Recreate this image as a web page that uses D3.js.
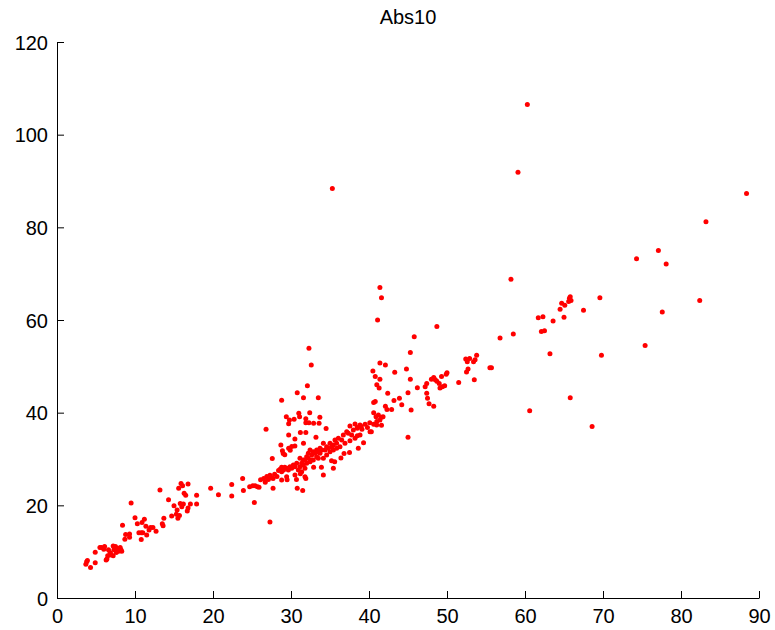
<!DOCTYPE html>
<html>
<head>
<meta charset="utf-8">
<script src="https://cdn.jsdelivr.net/npm/d3@7"></script>
<style>
  html, body { margin: 0; padding: 0; background: #fff; }
  svg text { font-family: "Liberation Sans", Arial, Helvetica, sans-serif; }
</style>
</head>
<body>
<script>
// Scatter of Abs10 observations
const title = "Abs10";
const xTicks = [0, 10, 20, 30, 40, 50, 60, 70, 80, 90];
const yTicks = [0, 20, 40, 60, 80, 100, 120];

const xVals = [
  // low range
  3.8, 3.9, 3.7, 4.3, 4.9, 4.9, 5.5, 5.7, 6.1, 6.0, 6.4, 6.3, 6.5, 6.8, 6.6, 6.9, 7.2, 7.3, 7.5, 7.6, 7.2, 6.8,
  7.7, 7.9, 8.2, 8.3, 8.1, 8.4, 8.7, 8.8, 9.3, 9.3, 9.5, 10.0, 10.3, 10.5, 10.8, 11.0, 10.8,
  10.9, 11.2, 11.4, 11.8, 12.0, 12.3, 11.5, 12.7, 13.2, 13.6, 13.5, 13.7, 14.3,
  14.7, 15.0, 15.4, 15.3, 15.5, 15.7, 15.8, 16.0, 16.2, 15.6, 15.9, 16.1, 16.3, 16.5, 16.7, 16.8, 17.1, 16.8,
  17.9, 17.9, 19.7, 20.7, 22.4, 22.4,
  // 24 - 32
  23.8, 23.9, 24.7, 25.1, 25.4, 25.7, 25.9, 25.3, 26.1, 26.5, 26.7, 26.9, 27.1, 27.3, 27.5, 27.7, 27.9, 28.2, 27.7,
  28.4, 28.6, 28.8, 29.0, 29.2, 29.5, 30.7, 30.8, 31.2, 31.5, 31.9, 27.3,
  // dense band 29 - 39
  37.56, 38.21, 38.50, 38.85, 37.99, 37.14, 36.71, 37.35, 37.78, 36.07, 36.50, 35.64, 35.00, 35.43, 34.57,
  34.15, 33.72, 33.29, 32.86, 32.65, 32.22, 32.01, 31.58, 31.15, 30.73, 30.30, 29.87, 29.44, 29.02, 28.80,
  33.72, 33.29, 32.86, 32.44, 32.01, 31.58, 31.15, 31.79, 31.37, 30.94, 34.15, 34.57, 35.00, 35.43, 35.85,
  36.28, 36.92, 37.56, 38.21, 38.85,
  38.63, 35.43, 34.15, 31.79, 30.51, 29.44, 28.80,
  32.44, 33.08, 33.50, 33.93, 34.36, 34.79, 32.22, 32.65, 31.79, 31.37, 30.51, 30.09, 29.66, 33.50, 35.21, 35.85,
  40.13, 40.98,
  // above the band
  32.1, 30.8, 31.6, 33.5, 28.8, 29.4, 29.8, 29.7, 30.4, 31.0, 31.1, 31.9, 31.9, 32.4, 32.3, 32.9, 33.7, 33.6, 34.5,
  26.8, 29.7, 30.5, 31.2, 31.9, 31.6, 33.2, 28.7, 28.9, 29.0, 29.7, 29.9, 30.1, 30.5, 29.2, 27.6,
  // below the band
  32.9, 33.9, 35.2, 35.6, 36.4, 36.8, 37.5, 39.3, 38.5, 40.3, 40.6, 40.6, 40.8, 40.6, 41.0,
  41.0, 39.0, 39.5, 39.8, 40.1,
  // 40 - 55
  41.1, 48.7, 45.8, 45.3, 32.3, 32.6, 41.4, 42.1, 40.5, 40.8, 41.4, 43.3, 44.8, 45.3,
  41.3, 42.4, 45.0, 46.2, 42.1, 42.3, 42.9, 43.2, 43.9, 44.2, 45.4, 40.9, 41.2, 41.4, 41.6, 41.6,
  38.5, 39.1, 45.0, 47.2, 47.4, 47.5, 47.7, 48.3, 48.0, 48.3, 48.7, 49.0, 49.1, 49.4, 49.7, 50.0, 49.9, 49.3, 51.5,
  52.4, 52.6, 52.9, 52.7, 52.5, 53.5, 53.8, 53.6, 53.4, 47.4, 48.5, 41.4, 41.6, 41.8,
  // 55 - 66
  58.2, 58.5, 56.8, 61.7, 62.3, 63.6, 64.5, 64.7, 65.1, 65.6, 65.8, 65.9, 65.7, 65.0,
  62.1, 62.5, 63.2, 65.8, 60.6, 55.5, 55.7,
  // high range
  88.4, 83.2, 77.1, 74.3, 78.1, 82.4, 77.6, 69.6, 75.4, 69.8, 67.5, 68.6,
  60.3, 59.1, 35.3
];

const yVals = [
  7.8, 8.1, 7.3, 6.6, 7.6, 9.9, 10.9, 10.9, 11.1, 10.5, 8.4, 8.2, 9.1, 9.8, 10.4, 9.5, 11.2, 10.4, 11.1, 9.8, 9.1, 9.3,
  10.7, 10.1, 10.4, 10.1, 10.9, 15.7, 12.7, 13.7, 13.8, 13.1, 20.5, 17.3, 16.0, 14.1, 14.1, 14.1, 12.6,
  16.3, 17.0, 15.5, 14.7, 15.2, 15.2, 13.6, 14.4, 23.3, 15.6, 16.0, 17.2, 21.2,
  17.7, 19.9, 19.0, 18.1, 17.2, 17.8, 20.4, 19.7, 20.3, 23.7, 24.7, 24.2, 22.6, 22.2, 18.8, 19.4, 20.3, 24.6,
  22.2, 20.3, 23.7, 22.3, 24.5, 22.0,
  25.8, 23.2, 24.0, 24.2, 24.2, 24.0, 23.9, 20.6, 25.5, 25.8, 25.0, 26.2, 25.6, 26.5, 26.0, 25.8, 26.7, 26.2, 23.7,
  27.5, 27.8, 28.2, 27.6, 28.2, 25.5, 25.6, 23.7, 26.8, 23.2, 25.8, 16.4,
  37.12, 37.56, 36.62, 37.34, 36.26, 35.90, 35.18, 35.54, 35.18, 34.46, 34.10, 34.10, 33.38, 33.02, 32.66,
  33.38, 32.31, 31.94, 31.58, 30.87, 31.23, 30.51, 29.79, 30.15, 29.07, 28.71, 28.35, 27.99, 27.63, 27.27,
  31.23, 30.51, 29.79, 29.43, 29.07, 28.71, 28.35, 27.99, 27.27, 27.63, 30.15, 30.87, 31.58, 31.94, 32.31,
  32.66, 33.38, 33.96, 34.46, 35.18,
  32.31, 27.99, 26.55, 26.19, 26.55, 26.19, 25.47,
  31.94, 31.23, 31.58, 31.94, 31.94, 32.31, 30.15, 29.79, 29.79, 29.07, 28.35, 27.99, 27.63, 30.15, 32.66, 33.38,
  35.90, 37.34,
  45.8, 44.3, 43.2, 43.2, 42.7, 39.1, 38.4, 37.6, 38.6, 39.9, 39.1, 38.7, 37.8, 40.0, 37.8, 37.7, 39.0, 37.7, 36.6,
  36.4, 35.2, 34.3, 35.7, 35.7, 33.4, 34.7, 33.0, 31.8, 31.2, 32.3, 31.9, 32.7, 32.8, 30.9, 30.1,
  28.2, 28.2, 29.6, 29.4, 30.2, 31.2, 31.4, 33.5, 35.0, 35.9, 37.5, 40.0, 42.4, 42.2, 46.0,
  38.1, 37.0, 37.5, 36.8, 37.8,
  60.0, 58.6, 56.4, 53.0, 53.9, 50.3, 50.7, 50.3, 49.0, 47.8, 47.2, 48.7, 49.4, 47.2,
  45.3, 44.2, 44.3, 45.4, 41.4, 40.7, 40.7, 42.6, 43.1, 41.7, 40.6, 39.1, 39.5, 38.4, 39.0, 37.3,
  36.8, 36.4, 34.7, 45.6, 44.2, 43.1, 41.9, 41.4, 47.2, 47.6, 46.8, 46.3, 45.3, 45.6, 45.8, 48.6, 48.3, 47.8, 46.5,
  51.6, 51.0, 51.7, 49.4, 48.8, 47.1, 52.4, 51.4, 51.0, 46.3, 47.1, 67.0, 64.8, 39.1,
  68.8, 57.0, 56.1, 60.5, 60.7, 59.8, 62.3, 63.6, 63.2, 64.0, 65.0, 64.2, 64.7, 60.6,
  57.5, 57.7, 52.7, 43.2, 40.4, 49.7, 49.7,
  87.3, 81.2, 75.0, 73.2, 72.1, 64.2, 61.7, 64.8, 54.5, 52.4, 62.1, 37.0,
  106.5, 91.9, 88.4
];

const points = xVals.map((x, i) => ({ x: x, y: yVals[i] }));

const W = 775, H = 630;
const plot = { left: 57, right: 759, top: 42, bottom: 598 };

const svg = d3.select("body").append("svg")
  .attr("width", W).attr("height", H);

const x = d3.scaleLinear().domain([0, 90]).range([plot.left, plot.right]);
const y = d3.scaleLinear().domain([0, 120]).range([plot.bottom, plot.top]);

// Axes with inward-facing ticks
const xAxis = d3.axisBottom(x).tickValues(xTicks).tickSizeInner(-7).tickSizeOuter(0).tickPadding(10);
const yAxis = d3.axisLeft(y).tickValues(yTicks).tickSizeInner(-7).tickSizeOuter(0).tickPadding(9);

const gx = svg.append("g").attr("transform", `translate(0,${plot.bottom})`).call(xAxis);
const gy = svg.append("g").attr("transform", `translate(${plot.left},0)`).call(yAxis);

[gx, gy].forEach(g => {
  g.select(".domain").attr("stroke", "#000").attr("stroke-width", 1);
  g.selectAll(".tick line").attr("stroke", "#000").attr("stroke-width", 1);
  g.selectAll(".tick text").attr("fill", "#000").style("font-size", "20px");
});
gx.selectAll(".tick text").attr("dy", "0.75em");
gy.selectAll(".tick text").attr("dy", "0.35em");

// Title
svg.append("text")
  .attr("x", (plot.left + plot.right) / 2)
  .attr("y", 24)
  .attr("text-anchor", "middle")
  .style("font-size", "20px")
  .attr("fill", "#000")
  .text(title);

// Points
svg.append("g").selectAll("circle")
  .data(points)
  .join("circle")
  .attr("cx", d => x(d.x))
  .attr("cy", d => y(d.y))
  .attr("r", 2.5)
  .attr("fill", "#ff0000");
</script>
</body>
</html>
